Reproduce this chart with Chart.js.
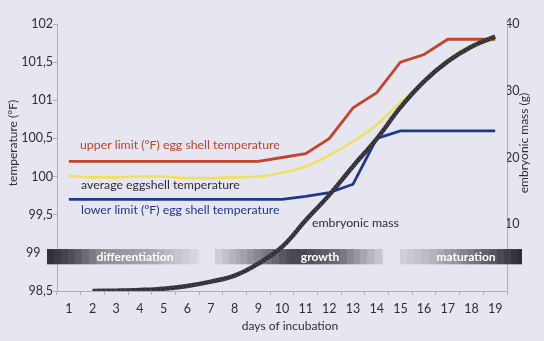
<!DOCTYPE html>
<html>
<head>
<meta charset="utf-8">
<script src="https://cdn.jsdelivr.net/npm/chart.js@4/dist/chart.umd.min.js"></script>
<style>
  html, body { margin: 0; padding: 0; background: #e5e6ef; }
  #wrap { width: 544px; height: 341px; position: relative; }
</style>
</head>
<body>
<div id="wrap"><canvas id="incubationChart"></canvas></div>
<script>
// Incubation days
const days = ['1', '2', '3', '4', '5', '6', '7', '8', '9', '10', '11', '12', '13', '14', '15', '16', '17', '18', '19'];

// Egg shell temperature (°F)
const upperLimit = [100.2, 100.2, 100.2, 100.2, 100.2, 100.2, 100.2, 100.2, 100.2, 100.25, 100.3, 100.5, 100.9, 101.1, 101.5, 101.6, 101.8, 101.8, 101.8];
const averageTemp = [100.01, 99.99, 99.99, 100.0, 100.0, 99.98, 99.98, 99.99, 100.0, 100.05, 100.13, 100.28, 100.46, 100.68, 100.97, 101.24, 101.53, 101.72, 101.79];
const lowerLimit = [99.7, 99.7, 99.7, 99.7, 99.7, 99.7, 99.7, 99.7, 99.7, 99.7, 99.74, 99.79, 99.9, 100.5, 100.6, 100.6, 100.6, 100.6, 100.6];

// Embryonic mass (g)
const embryoMass = [null, 0, 0.05, 0.15, 0.35, 0.75, 1.4, 2.3, 4.1, 6.6, 10.6, 14.4, 18.7, 22.8, 27.5, 31.4, 34.4, 36.6, 38.1];

// Tick values
const tempTicks = [98.5, 99, 99.5, 100, 100.5, 101, 101.5, 102];
const massTicks = [10, 20, 30, 40];

const phases = [
  { text: 'differentiation', x: 135 },
  { text: 'growth', x: 320 },
  { text: 'maturation', x: 466 }
];

const FONT = 'Lato, "DejaVu Sans", sans-serif';
const TEXT = '#2e2e33';
const AXIS = '#aab0bf';

// grainy dark stroke for the mass curve
function grainPattern() {
  const c = document.createElement('canvas');
  c.width = 5; c.height = 5;
  const g = c.getContext('2d');
  g.fillStyle = '#34343b';
  g.fillRect(0, 0, 5, 5);
  g.fillStyle = '#54545c';
  g.fillRect(1, 0, 1, 1);
  g.fillRect(3, 2, 1, 1);
  g.fillRect(0, 4, 1, 1);
  g.fillStyle = '#26262c';
  g.fillRect(2, 3, 1, 1);
  g.fillRect(4, 1, 1, 1);
  return g.createPattern(c, 'repeat');
}

// stepped gray band behind the phases
const bandStops = [
  [47, 44], [75, 84], [100, 140], [150, 166], [175, 194], [199, 218],
  null,
  [215, 212], [240, 168], [265, 122], [290, 74], [300, 70], [340, 112], [360, 160], [383, 206],
  null,
  [400, 210], [430, 184], [460, 140], [490, 90], [522, 42]
];

function drawBand(ctx, top, h) {
  let prev = null;
  bandStops.forEach(function (s) {
    if (!s) { prev = null; return; }
    if (prev) {
      for (let x = prev[0]; x < s[0]; x += 7) {
        const w = Math.min(7, s[0] - x);
        const t = (x + w / 2 - prev[0]) / (s[0] - prev[0]);
        const v = Math.round(prev[1] + (s[1] - prev[1]) * t);
        ctx.fillStyle = 'rgb(' + v + ',' + v + ',' + Math.min(255, v + 8) + ')';
        ctx.fillRect(x, top, w, h);
      }
    }
    prev = s;
  });
}

const decor = {
  id: 'decor',
  beforeDatasetsDraw(chart) {
    const ctx = chart.ctx;
    const y = chart.scales.y;
    const top = y.getPixelForValue(99.05);
    const bottom = y.getPixelForValue(98.85);
    ctx.save();
    drawBand(ctx, top, bottom - top);
    ctx.fillStyle = '#ffffff';
    ctx.font = 'bold 12px ' + FONT;
    ctx.textAlign = 'center';
    ctx.textBaseline = 'middle';
    phases.forEach(function (p) {
      ctx.fillText(p.text, p.x, (top + bottom) / 2 + 0.5);
    });
    ctx.restore();
  },
  afterDraw(chart) {
    const ctx = chart.ctx;
    ctx.save();
    ctx.font = '12.3px ' + FONT;
    ctx.textBaseline = 'middle';
    ctx.textAlign = 'left';
    ctx.fillStyle = '#c4402a';
    ctx.fillText('upper limit (°F) egg shell temperature', 80, 145);
    ctx.fillStyle = TEXT;
    ctx.fillText('average eggshell temperature', 81, 185);
    ctx.fillStyle = '#1f3592';
    ctx.fillText('lower limit (°F) egg shell temperature', 81, 210);
    ctx.fillStyle = TEXT;
    ctx.fillText('embryonic mass', 312, 223);

    // axis titles
    ctx.font = '12px ' + FONT;
    ctx.textAlign = 'center';
    ctx.fillText('days of incubation', 290, 326);
    ctx.translate(13, 143);
    ctx.rotate(-Math.PI / 2);
    ctx.fillText('temperature (°F)', 0, 0);
    ctx.setTransform(1, 0, 0, 1, 0, 0);
    ctx.translate(524, 143);
    ctx.rotate(-Math.PI / 2);
    ctx.fillText('embryonic mass (g)', 0, 0);
    ctx.restore();
  }
};

const ctx = document.getElementById('incubationChart').getContext('2d');
const incubationChart = new Chart(ctx, {
  type: 'line',
  data: {
    labels: days,
    datasets: [{
      label: 'embryonic mass',
      data: embryoMass,
      yAxisID: 'y1',
      borderColor: grainPattern(),
      borderWidth: 4.5,
      tension: 0.4,
      pointRadius: 0,
      order: 0
    }, {
      label: 'upper limit (°F) egg shell temperature',
      data: upperLimit,
      borderColor: '#c8432b',
      borderWidth: 2.8,
      tension: 0,
      pointRadius: 0,
      order: 1
    }, {
      label: 'average eggshell temperature',
      data: averageTemp,
      borderColor: '#eee064',
      borderWidth: 2.6,
      cubicInterpolationMode: 'monotone',
      pointRadius: 0,
      order: 2
    }, {
      label: 'lower limit (°F) egg shell temperature',
      data: lowerLimit,
      borderColor: '#21378f',
      borderWidth: 2.8,
      tension: 0,
      pointRadius: 0,
      order: 3
    }]
  },
  options: {
    responsive: true,
    maintainAspectRatio: false,
    animation: false,
    layout: { padding: { top: 24, left: 0, right: 0, bottom: 0 } },
    plugins: {
      legend: { display: false },
      tooltip: { enabled: false }
    },
    scales: {
      x: {
        offset: true,
        grid: { offset: true, drawOnChartArea: false, tickLength: 4, color: AXIS },
        border: { color: AXIS, width: 1 },
        ticks: { color: TEXT, font: { family: FONT, size: 12.5 }, padding: 6, maxRotation: 0, autoSkip: false },
        afterFit(scale) { scale.height = 50; }
      },
      y: {
        position: 'left',
        min: 98.5,
        max: 102,
        afterBuildTicks(scale) { scale.ticks = tempTicks.map(v => ({ value: v })); },
        grid: { drawOnChartArea: false, tickLength: 4, color: AXIS },
        border: { color: AXIS, width: 1 },
        ticks: {
          color: TEXT,
          font: { family: FONT, size: 12.5 },
          padding: 0,
          // the 99 label sits clear of the phase band
          callback: v => v === 99 ? '99\u2002\u2002' : String(v).replace('.', ',')
        },
        afterFit(scale) { scale.width = 57; }
      },
      y1: {
        position: 'right',
        min: 0,
        max: 40,
        afterBuildTicks(scale) { scale.ticks = massTicks.map(v => ({ value: v })); },
        grid: { drawOnChartArea: false, drawTicks: false, color: AXIS },
        border: { color: AXIS, width: 1 },
        ticks: { color: TEXT, font: { family: FONT, size: 12.5 }, padding: -2 },
        afterFit(scale) { scale.width = 37; }
      }
    }
  },
  plugins: [decor]
});
</script>
</body>
</html>
